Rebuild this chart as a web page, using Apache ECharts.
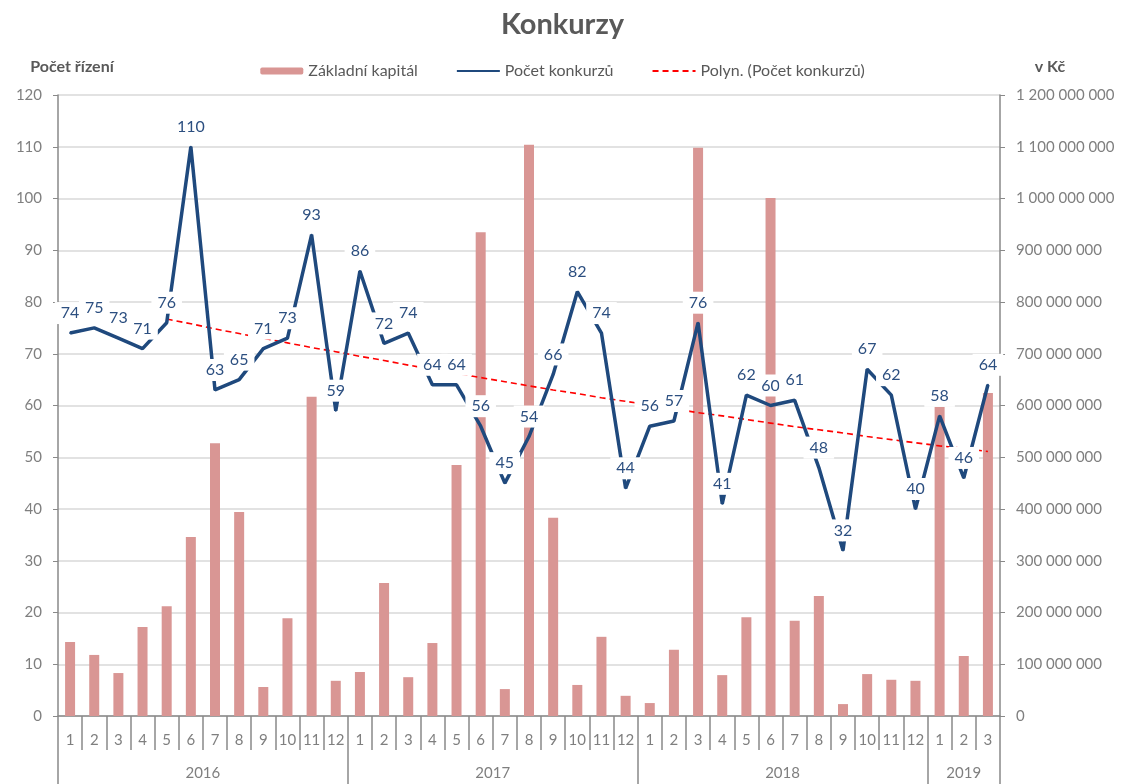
<!DOCTYPE html>
<html>
<head>
<meta charset="utf-8">
<script src="https://cdn.jsdelivr.net/npm/echarts@6/dist/echarts.min.js"></script>
<style>
  html, body { margin: 0; padding: 0; background: #fff; }
  #chart { width: 1125px; height: 784px; }
</style>
</head>
<body>
<div id="chart"></div>
<script>
// months 2016-01 .. 2019-03
const months = [
  '1','2','3','4','5','6','7','8','9','10','11','12',
  '1','2','3','4','5','6','7','8','9','10','11','12',
  '1','2','3','4','5','6','7','8','9','10','11','12',
  '1','2','3'
];
// year row: label sits under the middle of its group
const yearRow = [
  '','','','','','2016','','','','','','',
  '','','','','','2017','','','','','','',
  '','','','','','2018','','','','','','',
  '','2019',''
];
const halfShift = ['2016', '2017', '2018'];

// Počet konkurzů
const konkurzy = [
  74, 75, 73, 71, 76, 110, 63, 65, 71, 73, 93, 59,
  86, 72, 74, 64, 64, 56, 45, 54, 66, 82, 74, 44,
  56, 57, 76, 41, 62, 60, 61, 48, 32, 67, 62, 40,
  58, 46, 64
];

// Základní kapitál (Kč)
const kapital = [
  143e6, 118e6, 83e6, 172e6, 212e6, 346e6, 527e6, 394e6, 56e6, 189e6, 617e6, 68e6,
  85e6, 257e6, 75e6, 141e6, 485e6, 935e6, 52e6, 1104e6, 383e6, 60e6, 153e6, 39e6,
  25e6, 128e6, 1098e6, 79e6, 191e6, 1001e6, 184e6, 232e6, 23e6, 81e6, 70e6, 68e6,
  597e6, 116e6, 624e6
];

// Polyn. (Počet konkurzů)
const trend = [
  null, null, null, null,
  76.7, 75.8, 74.8, 73.9, 73.0, 72.1, 71.2, 70.4,
  69.5, 68.7, 67.8, 67.0, 66.2, 65.4, 64.6, 63.8, 63.0, 62.3,
  61.5, 60.8, 60.1, 59.4, 58.6, 58.0, 57.3, 56.6, 55.9, 55.3,
  54.7, 54.0, 53.4, 52.8, 52.2, 51.7, 51.1
];

const gray = '#898989';
const textGray = '#7f7f7f';
const font = 'Lato';

const chart = echarts.init(document.getElementById('chart'), null, { renderer: 'canvas' });

function spaced(v) {
  return String(v).replace(/\B(?=(\d{3})+(?!\d))/g, ' ');
}

const option = {
  animation: false,
  textStyle: { fontFamily: font },
  title: {
    text: 'Konkurzy',
    left: 'center',
    top: 5,
    textStyle: { fontSize: 29, fontWeight: 'bold', color: '#595959', fontFamily: font }
  },
  legend: {
    top: 58,
    left: 'center',
    itemWidth: 43,
    itemHeight: 7,
    itemGap: 38,
    textStyle: { fontSize: 16, color: '#595959', fontFamily: font },
    data: [
      { name: 'Základní kapitál' },
      { name: 'Počet konkurzů', itemStyle: { opacity: 0 } },
      { name: 'Polyn. (Počet konkurzů)', itemStyle: { opacity: 0 } }
    ]
  },
  grid: { left: 58, right: 125, top: 95, bottom: 68 },
  xAxis: [{
    type: 'category',
    data: months,
    position: 'bottom',
    axisLine: { show: true, lineStyle: { color: gray, width: 1.5 } },
    axisTick: { show: true, interval: 0, length: 34, lineStyle: { color: gray, width: 1.5 } },
    axisLabel: { interval: 0, margin: 17, fontSize: 15, color: textGray }
  }, {
    type: 'category',
    data: yearRow,
    position: 'bottom',
    axisLine: { show: false },
    axisTick: {
      show: true,
      interval: function (i) { return i % 12 === 0; },
      length: 68,
      lineStyle: { color: gray, width: 1.5 }
    },
    axisLabel: {
      interval: 0,
      margin: 50,
      formatter: function (v) {
        if (!v) return '';
        return halfShift.indexOf(v) >= 0 ? '{h|' + v + '}' : '{n|' + v + '}';
      },
      rich: {
        h: { padding: [0, 0, 0, 24], fontSize: 15, color: textGray, fontFamily: font },
        n: { fontSize: 15, color: textGray, fontFamily: font }
      }
    }
  }],
  yAxis: [{
    type: 'value',
    min: 0,
    max: 120,
    interval: 10,
    name: 'Počet řízení',
    nameLocation: 'end',
    nameGap: 20,
    nameTextStyle: { fontSize: 16, fontWeight: 'bold', color: '#595959', align: 'center', padding: [0, 0, 0, 28] },
    axisLine: { show: true, lineStyle: { color: gray, width: 1.5 } },
    axisTick: { show: true, length: 5, lineStyle: { color: gray } },
    axisLabel: { fontSize: 15, color: textGray, margin: 16 },
    splitLine: { lineStyle: { color: '#d9d9d9', width: 1.5 } }
  }, {
    type: 'value',
    min: 0,
    max: 1200000000,
    interval: 100000000,
    name: 'v Kč',
    nameLocation: 'end',
    nameGap: 20,
    nameTextStyle: { fontSize: 16, fontWeight: 'bold', color: '#595959', align: 'center', padding: [0, 0, 0, 100] },
    axisLine: { show: true, lineStyle: { color: gray, width: 1.5 } },
    axisTick: { show: true, length: 5, lineStyle: { color: gray } },
    axisLabel: { fontSize: 15, color: textGray, margin: 16, formatter: spaced },
    splitLine: { show: false }
  }],
  series: [{
    name: 'Základní kapitál',
    type: 'bar',
    xAxisIndex: 0,
    yAxisIndex: 1,
    barWidth: 10,
    itemStyle: { color: '#d99694' },
    data: kapital
  }, {
    name: 'Polyn. (Počet konkurzů)',
    type: 'line',
    xAxisIndex: 0,
    yAxisIndex: 0,
    symbol: 'none',
    lineStyle: { color: '#ff0000', width: 1.6, type: [6, 4] },
    itemStyle: { color: '#ff0000' },
    data: trend
  }, {
    name: 'Počet konkurzů',
    type: 'line',
    xAxisIndex: 0,
    yAxisIndex: 0,
    symbol: 'circle',
    symbolSize: 2,
    lineStyle: { color: '#1f497d', width: 3.5 },
    itemStyle: { color: '#1f497d' },
    label: {
      show: true,
      position: 'top',
      distance: 8,
      fontSize: 16,
      color: '#2c4f80',
      backgroundColor: '#ffffff',
      padding: [3, 6]
    },
    data: konkurzy
  }]
};

chart.setOption(option);
</script>
</body>
</html>
